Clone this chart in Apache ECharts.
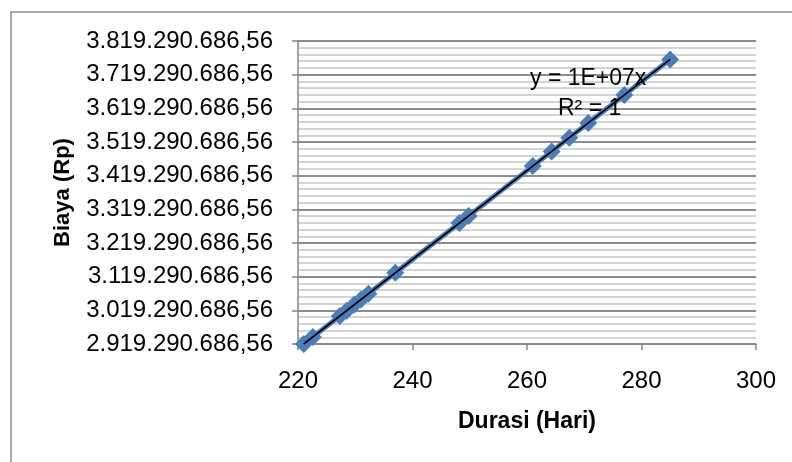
<!DOCTYPE html>
<html>
<head>
<meta charset="utf-8">
<script src="https://cdn.jsdelivr.net/npm/echarts@6/dist/echarts.min.js"></script>
<style>
  html, body { margin: 0; padding: 0; background: #fff; }
  #chart { width: 792px; height: 462px; }
</style>
</head>
<body>
<div id="chart"></div>
<script>
// Project duration (days) against total cost (Rp)
const durasi = [221, 222.6, 227.3, 228.5, 229.8, 231, 232.3, 237, 248.2, 249.8, 261, 264.3, 267.4, 270.7, 277, 285];
const biaya = [2919290686.56, 2940426000, 3002510000, 3018362000, 3035534000, 3051385000, 3068558000,
  3130642000, 3278588000, 3299723000, 3447669000, 3491260000, 3532210000, 3575801000, 3659020000, 3764696000];

const xTicks = [220, 240, 260, 280, 300];
const yMin = 2919290686.56;
const yStep = 100000000;
const yCount = 9;

const eqLine1 = 'y = 1E+07x';
const eqLine2 = 'R² = 1';

// Least-squares fit for the trend line
function fitLine(xs, ys) {
  const n = xs.length;
  let sx = 0, sy = 0, sxx = 0, sxy = 0;
  for (let i = 0; i < n; i++) { sx += xs[i]; sy += ys[i]; sxx += xs[i] * xs[i]; sxy += xs[i] * ys[i]; }
  const a = (n * sxy - sx * sy) / (n * sxx - sx * sx);
  const b = (sy - a * sx) / n;
  return { a, b };
}
const fit = fitLine(durasi, biaya);
const xLo = Math.min(...durasi), xHi = Math.max(...durasi);
const trend = [[xLo, fit.a * xLo + fit.b], [xHi, fit.a * xHi + fit.b]];

function fmtRp(v) {
  const s = (Math.round(v * 100) / 100).toFixed(2);
  const parts = s.split('.');
  return parts[0].replace(/\B(?=(\d{3})+(?!\d))/g, '.') + ',' + parts[1];
}

const FONT = '"Liberation Sans", Arial, sans-serif';
const AXIS_GREY = '#868686';

const chart = echarts.init(document.getElementById('chart'), null, { renderer: 'canvas' });
chart.setOption({
  animation: false,
  backgroundColor: '#fff',
  grid: { left: 298, right: 36, top: 41, bottom: 118, containLabel: false },
  xAxis: {
    type: 'value',
    min: xTicks[0],
    max: xTicks[xTicks.length - 1],
    interval: xTicks[1] - xTicks[0],
    name: 'Durasi (Hari)',
    nameLocation: 'middle',
    nameGap: 66,
    nameTextStyle: { fontFamily: FONT, fontSize: 23, fontWeight: 'bold', color: '#000' },
    axisLine: { show: true, onZero: false, lineStyle: { color: AXIS_GREY, width: 1.5 } },
    axisTick: { show: true, inside: false, length: 6, lineStyle: { color: AXIS_GREY, width: 1.5 } },
    axisLabel: { fontFamily: FONT, fontSize: 24, color: '#000', margin: 25 },
    splitLine: { show: false }
  },
  yAxis: {
    type: 'value',
    min: yMin,
    max: yMin + yStep * yCount,
    interval: yStep,
    name: 'Biaya (Rp)',
    nameLocation: 'middle',
    nameGap: 224,
    nameRotate: 90,
    nameTextStyle: { fontFamily: FONT, fontSize: 22, fontWeight: 'bold', color: '#000' },
    axisLine: { show: true, onZero: false, lineStyle: { color: AXIS_GREY, width: 1.5 } },
    axisTick: { show: true, inside: false, length: 6, lineStyle: { color: AXIS_GREY, width: 1.5 } },
    axisLabel: { fontFamily: FONT, fontSize: 24, color: '#000', margin: 25, formatter: fmtRp },
    splitLine: { show: true, lineStyle: { color: '#8c8c8c', width: 2 } },
    minorTick: { show: false, splitNumber: 5 },
    minorSplitLine: { show: true, lineStyle: { color: '#c6c6c6', width: 1.5 } }
  },
  series: [
    {
      name: 'Biaya',
      type: 'line',
      data: durasi.map((d, i) => [d, biaya[i]]),
      symbol: 'diamond',
      symbolSize: [18, 18],
      showAllSymbol: true,
      itemStyle: { color: '#4a7ebb' },
      lineStyle: { color: '#4a7ebb', width: 5 },
      z: 2
    },
    {
      name: 'Trend',
      type: 'line',
      data: trend,
      symbol: 'none',
      lineStyle: { color: '#000', width: 1.6 },
      z: 3
    }
  ],
  graphic: [
    {
      type: 'rect',
      shape: { x: 11, y: 12, width: 800, height: 500 },
      style: { fill: 'none', stroke: '#8c8c8c', lineWidth: 1.5 },
      silent: true
    },
    {
      type: 'text',
      left: 530, top: 67,
      style: { text: eqLine1, font: '23px ' + FONT, fill: '#000' },
      z: 10
    },
    {
      type: 'text',
      left: 558, top: 97,
      style: { text: eqLine2, font: '23px ' + FONT, fill: '#000' },
      z: 10
    }
  ]
});
</script>
</body>
</html>
